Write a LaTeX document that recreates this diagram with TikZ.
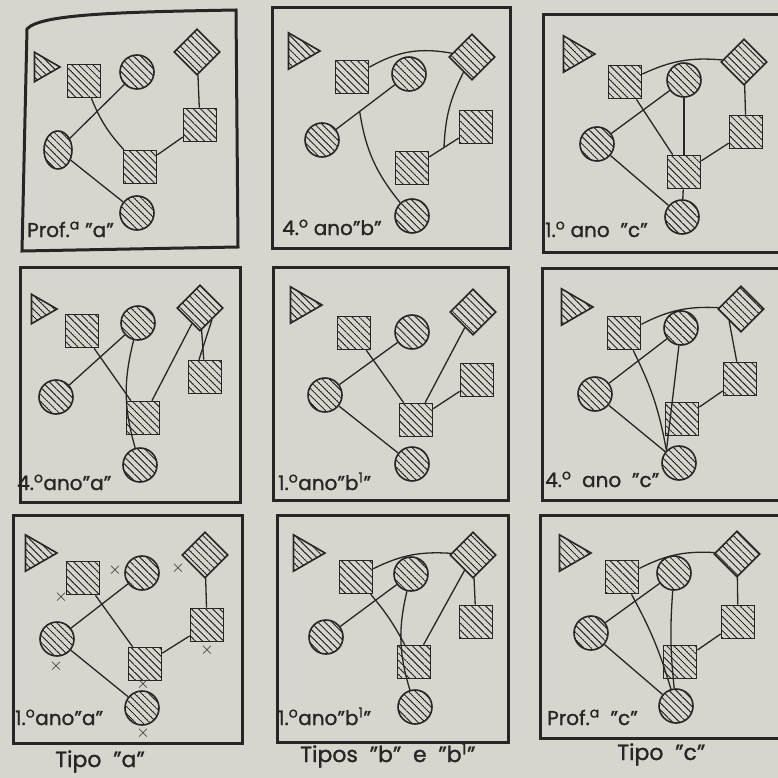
\documentclass[tikz,border=0pt]{standalone}
\usepackage{fontspec}
\setmainfont{Poppins}[FakeBold=1.2]
\usetikzlibrary{shapes.geometric, patterns.meta}

\definecolor{paper}{RGB}{216,213,206}
\definecolor{ink}{RGB}{40,38,36}

\tikzdeclarepattern{
  name=hatch,
  type=uncolored,
  bounding box={(0pt,-0.5pt) and (5pt,0.5pt)},
  tile size={(5pt,5pt)},
  tile transformation={rotate=-45},
  code={\draw[line width=1pt] (0pt,0pt) -- (5pt,0pt);}
}

\begin{document}
\begin{tikzpicture}[x=1pt, y=1pt,
    shp/.style={draw=ink, line width=1.6pt, pattern={hatch}, pattern color=ink, inner sep=0pt},
    sqr/.style={shp, rectangle, minimum size=33pt},
    circ/.style={shp, circle, minimum size=34pt},
    oval/.style={shp, ellipse, minimum width=28pt, minimum height=38pt},
    dmd/.style={shp, diamond, minimum size=46pt},
    tri/.style={shp, regular polygon, regular polygon sides=3, shape border rotate=-90, minimum size=42pt},
    smalltri/.style={tri, minimum size=34pt},
    link/.style={draw=ink, line width=1.3pt},
    panel/.style={draw=ink, line width=3pt},
    tag/.style={anchor=base west, inner sep=0pt, text=ink, font=\fontsize{20}{20}\selectfont},
    caption/.style={anchor=base west, inner sep=0pt, text=ink, font=\fontsize{22}{22}\selectfont},
    xsign/.style={inner sep=0pt, text=ink, font=\fontsize{18}{18}\selectfont}]
  \useasboundingbox[fill=paper] (0,0) rectangle (778,-778);
  % Frames
  \draw[panel] (27,-29) .. controls (40,-14) and (120,-12) .. (236,-10) -- (238,-247) -- (22,-251) -- cycle;
  \draw[panel] (272,-8) rectangle (510,-248);
  \draw[panel] (543,-15) rectangle (781,-252);
  \draw[panel] (20,-267) rectangle (240,-502);
  \draw[panel] (273,-267) rectangle (508,-500);
  \draw[panel] (542,-268) rectangle (781,-500);
  \draw[panel] (13,-515) rectangle (242,-743);
  \draw[panel] (277,-515) rectangle (508,-742);
  \draw[panel] (540,-515) rectangle (781,-738);
  % Prof.a "a"
  \foreach \n/\s/\x/\y in {t/smalltri/43/67, s1/sqr/84/81, c1/circ/137/72, d/dmd/197/52,
      s2/sqr/200/125, c2/oval/58/150, s3/sqr/140/167, c3/circ/137/213}
    \node[\s] (a-\n) at (\x,-\y) {};
  \draw[link] (a-c2) -- (a-c1);
  \draw[link] (a-s1) to[bend right=10] (a-s3);
  \draw[link] (a-s3) -- (a-s2);
  \draw[link] (a-s2) -- (a-d);
  \draw[link] (a-c2) -- (a-c3);
  \node[tag] (lab-a) at (27,-237) {Prof.\textsuperscript{a} ''a''};
  % 4.o ano "b"
  \foreach \n/\s/\x/\y in {t/tri/299/51, s1/sqr/352/77, c1/circ/409/74, d/dmd/472/57,
      s2/sqr/476/127, c2/circ/322/140, s3/sqr/412/168, c3/circ/412/216}
    \node[\s] (b-\n) at (\x,-\y) {};
  \draw[link] (b-s1) to[bend left=20] (b-d);
  \draw[link] (b-c2) -- (b-c1) coordinate[pos=0.4] (b-j1);
  \draw[link] (b-j1) to[bend right=15] (b-c3);
  \draw[link] (b-s3) -- (b-s2) coordinate[pos=0.5] (b-j2);
  \draw[link] (b-j2) to[bend left=12] (b-d);
  \node[tag] (lab-b) at (282,-235) {4.\textsuperscript{o} ano''b''};
  % 1.o ano "c"
  \foreach \n/\s/\x/\y in {t/tri/574/54, s1/sqr/625/82, c1/circ/684/80, d/dmd/744/62,
      s2/sqr/746/132, c2/circ/597/144, s3/sqr/684/172, c3/circ/682/217}
    \node[\s] (c-\n) at (\x,-\y) {};
  \draw[link] (c-s1) to[bend left=15] (c-d);
  \draw[link] (c-c2) -- (c-c1);
  \draw[link] (c-s1) -- (c-s3);
  \draw[link] (c-c1) -- (c-s3);
  \draw[link] (c-d) -- (c-s2);
  \draw[link] (c-s3) -- (c-s2);
  \draw[link] (c-c2) -- (c-c3);
  \draw[link] (c-s3) -- (c-c3);
  \node[tag] (lab-c) at (545,-237) {1.\textsuperscript{o} ano\ \ ''c''};
  % 4.o ano "a"
  \foreach \n/\s/\x/\y in {t/smalltri/40/309, s1/sqr/82/331, c1/circ/138/323, d/dmd/200/308,
      s2/sqr/205/377, c2/circ/56/397, s3/sqr/143/418, c3/circ/140/465}
    \node[\s] (d-\n) at (\x,-\y) {};
  \draw[link] (d-c2) -- (d-c1);
  \draw[link] (d-s1) -- (d-s3);
  \draw[link] (d-c1) to[bend right=15] (d-c3);
  \draw[link] (d-d) -- (d-s3);
  \draw[link] (d-d) -- (d-s2);
  \draw[link] (d-d.south east) -- ([xshift=-6pt]d-s2.north);
  \node[tag] (lab-d) at (17,-490) {4.\textsuperscript{o}ano''a''};
  % 1.o ano "b1"
  \foreach \n/\s/\x/\y in {t/tri/301/305, s1/sqr/354/333, c1/circ/412/332, d/dmd/473/312,
      s2/sqr/477/380, c2/circ/325/395, s3/sqr/416/420, c3/circ/412/464}
    \node[\s] (e-\n) at (\x,-\y) {};
  \draw[link] (e-c2) -- (e-c1);
  \draw[link] (e-s1) -- (e-s3);
  \draw[link] (e-d) -- (e-s3);
  \draw[link] (e-s3) -- (e-s2);
  \draw[link] (e-c2) -- (e-c3);
  \node[tag] (lab-e) at (278,-490) {1.\textsuperscript{o}ano''b\textsuperscript{1}''};
  % 4.o ano "c"
  \foreach \n/\s/\x/\y in {t/tri/572/307, s1/sqr/624/333, c1/circ/681/328, d/dmd/741/309,
      s2/sqr/740/379, c2/circ/595/394, s3/sqr/682/419, c3/circ/679/463}
    \node[\s] (f-\n) at (\x,-\y) {};
  \draw[link] (f-s1) to[bend left=15] (f-d);
  \draw[link] (f-c2) -- (f-c1);
  \draw[link] (f-s1) to[bend left=8] (f-c3.north west);
  \draw[link] (f-c1) -- (f-c3.north west);
  \draw[link] (f-d.south west) -- (f-s2);
  \draw[link] (f-s2) -- (f-s3);
  \draw[link] (f-c2) -- (f-c3);
  \node[tag] (lab-f) at (545,-487) {4.\textsuperscript{o}\ \ ano\ \ ''c''};
  % 1.o ano "a"
  \foreach \n/\s/\x/\y in {t/tri/36/553, s1/sqr/83/578, c1/circ/142/573, d/dmd/205/555,
      s2/sqr/207/625, c2/circ/57/639, s3/sqr/145/664, c3/circ/142/708}
    \node[\s] (g-\n) at (\x,-\y) {};
  \draw[link] (g-c2) -- (g-c1);
  \draw[link] (g-s1) -- (g-s3);
  \draw[link] (g-s3) -- (g-s2);
  \draw[link] (g-s2) -- (g-d);
  \draw[link] (g-c2) -- (g-c3);
  \foreach \x/\y [count=\k] in {115/570, 61/597, 178/568, 207/650, 56/666, 143/684, 143/733}
    \node[xsign] (g-x\k) at (\x,-\y) {$\times$};
  \node[tag] (lab-g) at (15,-725) {1.\textsuperscript{o}ano''a''};
  % 1.o ano "b1"
  \foreach \n/\s/\x/\y in {t/tri/304/553, s1/sqr/356/577, c1/circ/411/574, d/dmd/473/555,
      s2/sqr/476/622, c2/circ/326/637, s3/sqr/414/662, c3/circ/415/707}
    \node[\s] (h-\n) at (\x,-\y) {};
  \draw[link] (h-s1) to[bend left=15] (h-d);
  \draw[link] (h-c2) -- (h-c1);
  \draw[link] (h-s1) to[bend left=6] (h-s3);
  \draw[link] (h-c1) to[bend right=15] (h-c3);
  \draw[link] (h-d) -- (h-s3);
  \draw[link] (h-d) -- (h-s2);
  \node[tag] (lab-h) at (278,-725) {1.\textsuperscript{o}ano''b\textsuperscript{1}''};
  % Prof.a "c"
  \foreach \n/\s/\x/\y in {t/tri/570/553, s1/sqr/622/577, c1/circ/674/573, d/dmd/737/554,
      s2/sqr/738/622, c2/circ/591/633, s3/sqr/680/662, c3/circ/676/706}
    \node[\s] (i-\n) at (\x,-\y) {};
  \draw[link] (i-s1) to[bend left=15] (i-d);
  \draw[link] (i-c2) -- (i-c1);
  \draw[link] (i-s1) to[bend left=6] (i-c3);
  \draw[link] (i-c1) to[bend right=5] (i-c3);
  \draw[link] (i-d) -- (i-s2);
  \draw[link] (i-s2) -- (i-s3);
  \draw[link] (i-c2) -- (i-c3);
  \node[tag] (lab-i) at (547,-725) {Prof.\textsuperscript{a}\ \ ''c''};
  % Captions
  \node[caption] (cap-a) at (55,-767) {Tipo\ \ ''a''};
  \node[caption] (cap-b) at (300,-762) {Tipos\ \ ''b''\ \ e\ \ ''b\textsuperscript{1}''};
  \node[caption] (cap-c) at (617,-760) {Tipo\ \ ''c''};
\end{tikzpicture}
\end{document}
